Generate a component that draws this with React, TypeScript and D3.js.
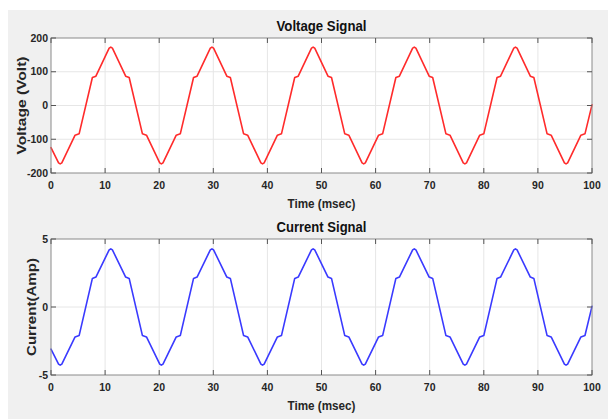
import React from "react";
import * as d3 from "d3";

// Time stamps (msec) of the read waveform vertices
const timeMs: number[] = [
  0, 1.4, 1.7, 2.0, 4.45, 5.2, 7.65, 8.3, 10.75, 11.05, 11.35, 13.8, 14.45, 16.9, 17.65, 20.1,
  20.4, 20.7, 23.15, 23.9, 26.35, 27.0, 29.45, 29.75, 30.05, 32.5, 33.15, 35.6, 36.35, 38.8,
  39.1, 39.4, 41.85, 42.6, 45.05, 45.7, 48.15, 48.45, 48.75, 51.2, 51.85, 54.3, 55.05, 57.5,
  57.8, 58.1, 60.55, 61.3, 63.75, 64.4, 66.85, 67.15, 67.45, 69.9, 70.55, 73.0, 73.75, 76.2,
  76.5, 76.8, 79.25, 80.0, 82.45, 83.1, 85.55, 85.85, 86.15, 88.6, 89.25, 91.7, 92.45, 94.9,
  95.2, 95.5, 97.95, 98.7, 100,
];

// Voltage (Volt) at those times
const voltage: number[] = [
  -125, -170, -173, -170, -88, -84, 83, 87, 170, 173, 170, 87, 83, -84, -88, -170,
  -173, -170, -88, -84, 83, 87, 170, 173, 170, 87, 83, -84, -88, -170,
  -173, -170, -88, -84, 83, 87, 170, 173, 170, 87, 83, -84, -88, -170,
  -173, -170, -88, -84, 83, 87, 170, 173, 170, 87, 83, -84, -88, -170,
  -173, -170, -88, -84, 83, 87, 170, 173, 170, 87, 83, -84, -88, -170,
  -173, -170, -88, -84, 2,
];

// Current (Amp) at those times
const current: number[] = [
  -3.1, -4.2, -4.28, -4.2, -2.2, -2.1, 2.1, 2.2, 4.2, 4.28, 4.2, 2.2, 2.1, -2.1, -2.2, -4.2,
  -4.28, -4.2, -2.2, -2.1, 2.1, 2.2, 4.2, 4.28, 4.2, 2.2, 2.1, -2.1, -2.2, -4.2,
  -4.28, -4.2, -2.2, -2.1, 2.1, 2.2, 4.2, 4.28, 4.2, 2.2, 2.1, -2.1, -2.2, -4.2,
  -4.28, -4.2, -2.2, -2.1, 2.1, 2.2, 4.2, 4.28, 4.2, 2.2, 2.1, -2.1, -2.2, -4.2,
  -4.28, -4.2, -2.2, -2.1, 2.1, 2.2, 4.2, 4.28, 4.2, 2.2, 2.1, -2.1, -2.2, -4.2,
  -4.28, -4.2, -2.2, -2.1, 0.05,
];

const xTicks: number[] = [0, 10, 20, 30, 40, 50, 60, 70, 80, 90, 100];
const vTicks: number[] = [-200, -100, 0, 100, 200];
const iTicks: number[] = [-5, 0, 5];

const W = 608;
const H = 419;
const FONT = "'Liberation Sans', Arial, sans-serif";

type PanelProps = {
  top: number;
  bottom: number;
  values: number[];
  domain: [number, number];
  yTicks: number[];
  color: string;
  title: string;
  yLabel: string;
  yLabelX: number;
  yLabelLen: number;
};

function Panel(p: PanelProps) {
  const left = 51;
  const right = 592;
  const x = d3.scaleLinear().domain([0, 100]).range([left, right]);
  const y = d3.scaleLinear().domain(p.domain).range([p.bottom, p.top]);
  const pts: [number, number][] = timeMs.map((t, i) => [t, p.values[i]]);
  const line = d3
    .line<[number, number]>()
    .x((d) => x(d[0]))
    .y((d) => y(d[1]));
  const tickLen = 5;
  const gridColor = "#e6e6e6";
  const axisColor = "#8a8a8a";
  const tickColor = "#555";
  const midY = (p.top + p.bottom) / 2;
  return (
    <g>
      <rect x={left} y={p.top} width={right - left} height={p.bottom - p.top} fill="#fff" />
      {xTicks.slice(1, -1).map((t) => (
        <line key={"gx" + t} x1={x(t)} x2={x(t)} y1={p.top} y2={p.bottom} stroke={gridColor} strokeWidth={1} />
      ))}
      {p.yTicks.slice(1, -1).map((t) => (
        <line key={"gy" + t} x1={left} x2={right} y1={y(t)} y2={y(t)} stroke={gridColor} strokeWidth={1} />
      ))}
      <path d={line(pts) || ""} fill="none" stroke={p.color} strokeWidth={1.6} strokeLinejoin="round" strokeLinecap="round" />
      <rect x={left} y={p.top} width={right - left} height={p.bottom - p.top} fill="none" stroke={axisColor} strokeWidth={1} />
      {xTicks.map((t) => (
        <g key={"tx" + t}>
          <line x1={x(t)} x2={x(t)} y1={p.bottom} y2={p.bottom - tickLen} stroke={tickColor} strokeWidth={1} />
          <line x1={x(t)} x2={x(t)} y1={p.top} y2={p.top + tickLen} stroke={tickColor} strokeWidth={1} />
          <text x={x(t)} y={p.bottom + 16} textAnchor="middle" fontFamily={FONT} fontWeight="bold" fontSize={10.5} fill="#262626">
            {t}
          </text>
        </g>
      ))}
      {p.yTicks.map((t) => (
        <g key={"ty" + t}>
          <line x1={left} x2={left + tickLen} y1={y(t)} y2={y(t)} stroke={tickColor} strokeWidth={1} />
          <line x1={right} x2={right - tickLen} y1={y(t)} y2={y(t)} stroke={tickColor} strokeWidth={1} />
          <text x={left - 3} y={y(t)} dy="0.35em" textAnchor="end" fontFamily={FONT} fontWeight="bold" fontSize={10.5} fill="#262626">
            {t}
          </text>
        </g>
      ))}
      <text
        x={(left + right) / 2}
        y={p.top - 7.5}
        textAnchor="middle"
        fontFamily={FONT}
        fontWeight="bold"
        fontSize={14}
        textLength={90}
        lengthAdjust="spacingAndGlyphs"
        fill="#111"
      >
        {p.title}
      </text>
      <text
        x={(left + right) / 2}
        y={p.bottom + 34.5}
        textAnchor="middle"
        fontFamily={FONT}
        fontWeight="bold"
        fontSize={12}
        textLength={68}
        lengthAdjust="spacingAndGlyphs"
        fill="#262626"
      >
        Time (msec)
      </text>
      <text
        transform={`translate(${p.yLabelX},${midY}) rotate(-90)`}
        textAnchor="middle"
        fontFamily={FONT}
        fontWeight="bold"
        fontSize={12.5}
        textLength={p.yLabelLen}
        lengthAdjust="spacingAndGlyphs"
        fill="#262626"
      >
        {p.yLabel}
      </text>
    </g>
  );
}

export default function App() {
  return (
    <svg
      width={W}
      height={H}
      style={{ position: "absolute", left: 0, top: 0, display: "block" }}
    >
      <rect x={0} y={0} width={W} height={H} fill="#fff" />
      <rect x={8} y={10} width={W - 8} height={H - 10} fill="#f0f0f0" />
      <Panel
        top={38}
        bottom={173}
        values={voltage}
        domain={[-200, 200]}
        yTicks={vTicks}
        color="#ff2b2b"
        title="Voltage Signal"
        yLabel="Voltage (Volt)"
        yLabelX={26}
        yLabelLen={98}
      />
      <Panel
        top={239}
        bottom={375}
        values={current}
        domain={[-5, 5]}
        yTicks={iTicks}
        color="#3a3aff"
        title="Current Signal"
        yLabel="Current(Amp)"
        yLabelX={36}
        yLabelLen={98}
      />
    </svg>
  );
}
